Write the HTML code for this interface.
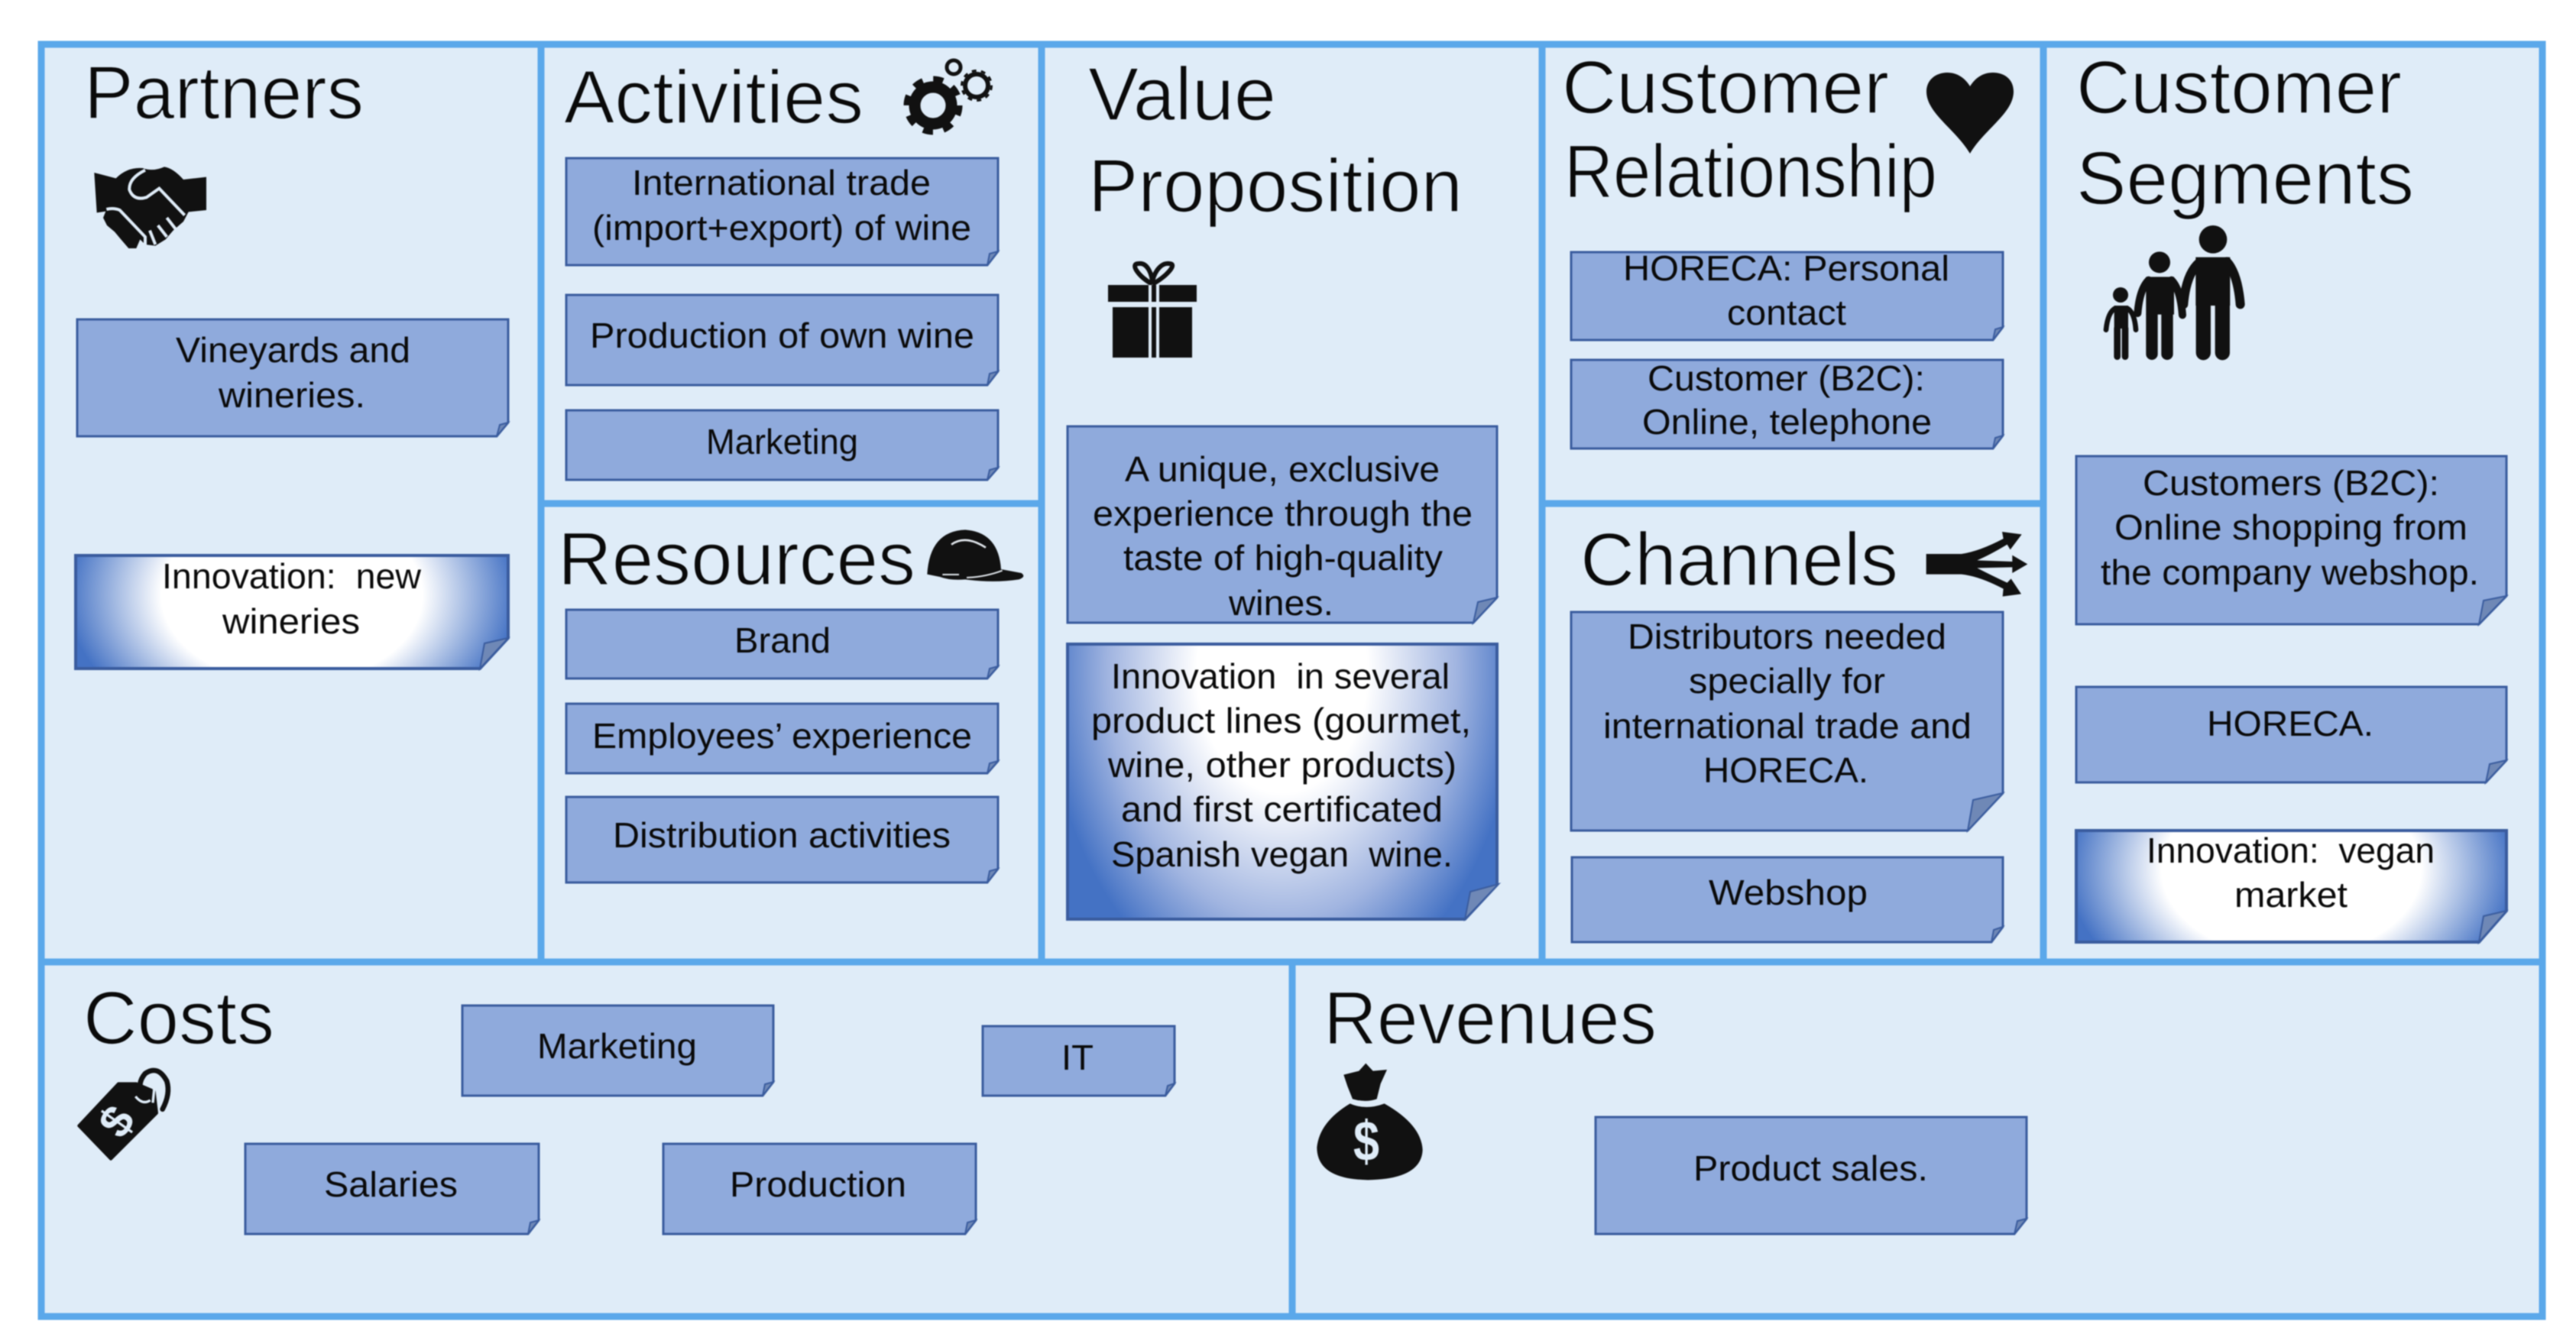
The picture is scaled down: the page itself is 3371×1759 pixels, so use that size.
<!DOCTYPE html>
<html><head><meta charset="utf-8"><style>
html,body{margin:0;padding:0;background:#fff;width:3371px;height:1759px;overflow:hidden}
svg{display:block;filter:blur(.7px)}
text{font-family:"Liberation Sans",sans-serif;fill:#0a0a0a}
.t{font-size:98px;stroke:#dfecf8;stroke-width:1.6px}
.b{font-size:46px}
.box{fill:#8faadc;stroke:#3a5c9e;stroke-width:3}
.fold{fill:#6f88b6;stroke:#3a5c9e;stroke-width:2}
</style></head><body>
<svg xmlns="http://www.w3.org/2000/svg" width="3371" height="1759" viewBox="0 0 3371 1759">
<defs>
<radialGradient id="g1" cx=".5" cy=".35" r=".52" gradientTransform="translate(.5 .35) scale(1 2.6) translate(-.5 -.35)">
<stop offset=".58" stop-color="#fff"/><stop offset="1" stop-color="#4472c4"/></radialGradient>
<radialGradient id="g2" cx=".5" cy=".1" r=".55" gradientTransform="translate(.5 .1) scale(1 2.22) translate(-.5 -.1)">
<stop offset=".36" stop-color="#fff"/><stop offset=".74" stop-color="#a0b4e0"/><stop offset="1" stop-color="#4472c4"/></radialGradient>
</defs>
<rect width="3371" height="1759" fill="#fff"/>
<rect x="54" y="58" width="3273" height="1665" fill="#dfecf8" stroke="#5ba8ea" stroke-width="9"/>
<g stroke="#5ba8ea" stroke-width="9" fill="none">
<path d="M54 1259H3327M708 58V1259M1363 58V1259M2018 58V1259M2674 58V1259M1691 1259V1723M708 659H1363M2018 659H2674"/>
</g>

<!-- boxes -->
<path class="box" d="M101 418H665V553L650 571H101Z"/>
<path fill="url(#g1)" stroke="#3a5c9e" stroke-width="4" d="M99 727H665V835L628 875H99Z"/>
<path class="box" d="M741 207H1306V329L1292 347H741Z"/>
<path class="box" d="M741 386H1306V486L1292 504H741Z"/>
<path class="box" d="M741 537H1306V612L1292 628H741Z"/>
<path class="box" d="M741 798H1306V872L1292 888H741Z"/>
<path class="box" d="M741 921H1306V996L1292 1012H741Z"/>
<path class="box" d="M741 1043H1306V1137L1292 1155H741Z"/>
<path class="box" d="M605 1316H1012V1416L998 1434H605Z"/>
<path class="box" d="M321 1497H705V1597L691 1615H321Z"/>
<path class="box" d="M868 1497H1277V1597L1263 1615H868Z"/>
<path class="box" d="M1286 1343H1537V1418L1525 1434H1286Z"/>
<path class="box" d="M2088 1462H2652V1595L2636 1615H2088Z"/>
<path class="box" d="M1397 558H1959V782L1928 815H1397Z"/>
<path fill="url(#g2)" stroke="#3a5c9e" stroke-width="4" d="M1397 843H1959V1158L1917 1203H1397Z"/>
<path class="box" d="M2056 330H2621V428L2608 445H2056Z"/>
<path class="box" d="M2056 471H2621V570L2608 587H2056Z"/>
<path class="box" d="M2056 801H2621V1038L2575 1087H2056Z"/>
<path class="box" d="M2057 1122H2621V1213L2606 1233H2057Z"/>
<path class="box" d="M2717 597H3280V780L3244 817H2717Z"/>
<path class="box" d="M2717 899H3280V995L3253 1024H2717Z"/>
<path fill="url(#g1)" stroke="#3a5c9e" stroke-width="4" d="M2717 1087H3280V1192L3244 1233H2717Z"/>
<!-- folds -->
<path class="fold" d="M665 553L650 571L654 556Z"/>
<path class="fold" d="M665 835L628 875L634 842Z"/>
<path class="fold" d="M1306 329L1292 347L1295 332Z"/>
<path class="fold" d="M1306 486L1292 504L1295 489Z"/>
<path class="fold" d="M1306 612L1292 628L1295 615Z"/>
<path class="fold" d="M1306 872L1292 888L1295 875Z"/>
<path class="fold" d="M1306 996L1292 1012L1295 999Z"/>
<path class="fold" d="M1306 1137L1292 1155L1295 1140Z"/>
<path class="fold" d="M1012 1416L998 1434L1001 1419Z"/>
<path class="fold" d="M705 1597L691 1615L694 1600Z"/>
<path class="fold" d="M1277 1597L1263 1615L1266 1600Z"/>
<path class="fold" d="M1537 1418L1525 1434L1528 1421Z"/>
<path class="fold" d="M2652 1595L2636 1615L2640 1598Z"/>
<path class="fold" d="M1959 782L1928 815L1934 788Z"/>
<path class="fold" d="M1961 1157L1917 1203L1924 1167Z"/>
<path class="fold" d="M2621 428L2608 445L2611 431Z"/>
<path class="fold" d="M2621 570L2608 587L2611 573Z"/>
<path class="fold" d="M2621 1038L2575 1087L2582 1047Z"/>
<path class="fold" d="M2621 1213L2606 1233L2609 1217Z"/>
<path class="fold" d="M3280 780L3244 817L3250 786Z"/>
<path class="fold" d="M3280 995L3253 1024L3258 1000Z"/>
<path class="fold" d="M3280 1192L3244 1233L3250 1199Z"/>

<!-- titles -->
<text class="t" x="110" y="155" textLength="366" lengthAdjust="spacingAndGlyphs">Partners</text>
<text class="t" x="738" y="161" textLength="392" lengthAdjust="spacingAndGlyphs">Activities</text>
<text class="t" x="730" y="765" textLength="468" lengthAdjust="spacingAndGlyphs">Resources</text>
<text class="t" x="1424" y="157" textLength="246" lengthAdjust="spacingAndGlyphs">Value</text>
<text class="t" x="1424" y="277" textLength="490" lengthAdjust="spacingAndGlyphs">Proposition</text>
<text class="t" x="2044" y="148" textLength="428" lengthAdjust="spacingAndGlyphs">Customer</text>
<text class="t" x="2047" y="258" textLength="488" lengthAdjust="spacingAndGlyphs">Relationship</text>
<text class="t" x="2717" y="148" textLength="426" lengthAdjust="spacingAndGlyphs">Customer</text>
<text class="t" x="2717" y="267" textLength="442" lengthAdjust="spacingAndGlyphs">Segments</text>
<text class="t" x="2068" y="766" textLength="416" lengthAdjust="spacingAndGlyphs">Channels</text>
<text class="t" x="109" y="1366" textLength="250" lengthAdjust="spacingAndGlyphs">Costs</text>
<text class="t" x="1732" y="1366" textLength="436" lengthAdjust="spacingAndGlyphs">Revenues</text>

<!-- box text -->
<text class="b" x="230" y="474" textLength="307" lengthAdjust="spacingAndGlyphs">Vineyards and</text>
<text class="b" x="286" y="533" textLength="192" lengthAdjust="spacingAndGlyphs">wineries.</text>
<text class="b" x="212" y="770" textLength="339" lengthAdjust="spacingAndGlyphs">Innovation:&#160; new</text>
<text class="b" x="291" y="829" textLength="180" lengthAdjust="spacingAndGlyphs">wineries</text>
<text class="b" x="827" y="255" textLength="391" lengthAdjust="spacingAndGlyphs">International trade</text>
<text class="b" x="775" y="314" textLength="496" lengthAdjust="spacingAndGlyphs">(import+export) of wine</text>
<text class="b" x="772" y="455" textLength="503" lengthAdjust="spacingAndGlyphs">Production of own wine</text>
<text class="b" x="924" y="594" textLength="199" lengthAdjust="spacingAndGlyphs">Marketing</text>
<text class="b" x="961" y="854" textLength="126" lengthAdjust="spacingAndGlyphs">Brand</text>
<text class="b" x="775" y="979" textLength="497" lengthAdjust="spacingAndGlyphs">Employees’ experience</text>
<text class="b" x="802" y="1109" textLength="442" lengthAdjust="spacingAndGlyphs">Distribution activities</text>
<text class="b" x="703" y="1385" textLength="209" lengthAdjust="spacingAndGlyphs">Marketing</text>
<text class="b" x="424" y="1566" textLength="175" lengthAdjust="spacingAndGlyphs">Salaries</text>
<text class="b" x="955" y="1566" textLength="231" lengthAdjust="spacingAndGlyphs">Production</text>
<text class="b" x="1389" y="1400" textLength="42" lengthAdjust="spacingAndGlyphs">IT</text>
<text class="b" x="2216" y="1545" textLength="307" lengthAdjust="spacingAndGlyphs">Product sales.</text>
<text class="b" x="1472" y="630" textLength="412" lengthAdjust="spacingAndGlyphs">A unique, exclusive</text>
<text class="b" x="1430" y="688" textLength="497" lengthAdjust="spacingAndGlyphs">experience through the</text>
<text class="b" x="1470" y="746" textLength="418" lengthAdjust="spacingAndGlyphs">taste of high-quality</text>
<text class="b" x="1608" y="805" textLength="137" lengthAdjust="spacingAndGlyphs">wines.</text>
<text class="b" x="1454" y="901" textLength="443" lengthAdjust="spacingAndGlyphs">Innovation&#160; in several</text>
<text class="b" x="1428" y="959" textLength="497" lengthAdjust="spacingAndGlyphs">product lines (gourmet,</text>
<text class="b" x="1450" y="1017" textLength="456" lengthAdjust="spacingAndGlyphs">wine, other products)</text>
<text class="b" x="1467" y="1075" textLength="421" lengthAdjust="spacingAndGlyphs">and first certificated</text>
<text class="b" x="1454" y="1134" textLength="447" lengthAdjust="spacingAndGlyphs">Spanish vegan&#160; wine.</text>
<text class="b" x="2124" y="367" textLength="427" lengthAdjust="spacingAndGlyphs">HORECA: Personal</text>
<text class="b" x="2260" y="425" textLength="156" lengthAdjust="spacingAndGlyphs">contact</text>
<text class="b" x="2156" y="511" textLength="363" lengthAdjust="spacingAndGlyphs">Customer (B2C):</text>
<text class="b" x="2149" y="568" textLength="379" lengthAdjust="spacingAndGlyphs">Online, telephone</text>
<text class="b" x="2130" y="849" textLength="417" lengthAdjust="spacingAndGlyphs">Distributors needed</text>
<text class="b" x="2210" y="907" textLength="257" lengthAdjust="spacingAndGlyphs">specially for</text>
<text class="b" x="2098" y="966" textLength="482" lengthAdjust="spacingAndGlyphs">international trade and</text>
<text class="b" x="2229" y="1024" textLength="216" lengthAdjust="spacingAndGlyphs">HORECA.</text>
<text class="b" x="2236" y="1184" textLength="208" lengthAdjust="spacingAndGlyphs">Webshop</text>
<text class="b" x="2804" y="648" textLength="388" lengthAdjust="spacingAndGlyphs">Customers (B2C):</text>
<text class="b" x="2767" y="706" textLength="462" lengthAdjust="spacingAndGlyphs">Online shopping from</text>
<text class="b" x="2749" y="765" textLength="495" lengthAdjust="spacingAndGlyphs">the company webshop.</text>
<text class="b" x="2888" y="963" textLength="218" lengthAdjust="spacingAndGlyphs">HORECA.</text>
<text class="b" x="2809" y="1129" textLength="377" lengthAdjust="spacingAndGlyphs">Innovation:&#160; vegan</text>
<text class="b" x="2924" y="1187" textLength="148" lengthAdjust="spacingAndGlyphs">market</text>

<!-- icons -->
<!-- handshake -->
<g transform="translate(90 200) scale(.3333)">
<path fill="#111" d="M100 78L185 100Q230 55 290 60Q330 75 375 55Q410 60 450 105L540 95V225L470 232L450 270L410 305L380 340L340 365L300 360L280 340L265 375L235 375L205 340L180 310L150 285L135 255L145 230L110 235Z"/>
<path fill="none" stroke="#dfecf8" stroke-width="12" d="M300 68Q235 100 238 145Q255 190 305 175L355 140L455 245M148 222Q175 215 200 225L300 330L300 362M350 285L385 330M385 255L420 300M318 305L340 360"/>
</g>
<!-- gears -->
<g fill="none" stroke="#111">
<circle cx="1221" cy="138" r="24" stroke-width="15"/>
<circle cx="1221" cy="138" r="34" stroke-width="9" stroke-dasharray="13 13.7"/>
<circle cx="1278" cy="112" r="15" stroke-width="6"/>
<circle cx="1278" cy="112" r="19.5" stroke-width="3" stroke-dasharray="6 6.2"/>
<circle cx="1248" cy="88" r="9" stroke-width="5"/>
</g>
<!-- hard hat -->
<g transform="translate(1200 680) scale(.3333)">
<path fill="#111" d="M40 215Q50 45 190 40Q320 50 330 195L410 210Q430 225 400 235Q300 250 190 235Q130 240 90 225Z"/>
<path fill="none" stroke="#dfe4ea" stroke-width="8" d="M135 98Q190 58 270 110"/>
<path fill="none" stroke="#dfe4ea" stroke-width="6" d="M100 216H165M195 228Q270 225 335 200"/>
</g>
<!-- gift -->
<rect x="1450" y="373" width="116" height="22" fill="#111"/>
<rect x="1456" y="402" width="104" height="66" fill="#111"/>
<path fill="none" stroke="#111" stroke-width="6" d="M1508 372C1490 362 1478 345 1490 345C1502 343 1508 360 1508 372C1508 360 1518 343 1530 345C1542 345 1526 362 1508 372"/>
<rect x="1503" y="373" width="4" height="95" fill="#dfecf8"/>
<rect x="1513" y="373" width="4" height="95" fill="#dfecf8"/>
<!-- heart -->
<path fill="#111" d="M2578 201C2560 170 2521 148 2521 120C2521 103 2535 95 2548 95C2562 95 2572 103 2578 113C2584 103 2594 95 2608 95C2622 95 2635 103 2635 120C2635 148 2596 170 2578 201Z"/>
<!-- arrows -->
<g transform="translate(2500 680) scale(.3333)">
<path fill="#111" d="M62 135L200 135Q270 125 365 75L360 48L437 58L392 118L380 98Q310 140 262 160L400 165V140L460 175L400 210V187L262 190Q310 215 380 248L395 232L435 292L362 302L365 272Q270 222 200 215L62 215Z"/>
</g>
<!-- family -->
<g transform="translate(2740 285) scale(.3333)" fill="#111" stroke="none">
<circle cx="468" cy="85" r="55"/>
<path d="M400 155H535V345H400Z"/>
<path fill="none" stroke="#111" stroke-width="36" stroke-linecap="round" d="M415 175Q362 220 352 340M522 172Q565 220 575 340"/>
<path fill="none" stroke="#111" stroke-width="58" stroke-linecap="round" d="M430 345V530M505 345V530"/>
<circle cx="258" cy="175" r="42"/>
<path d="M205 232H315V380H205Z"/>
<path fill="none" stroke="#111" stroke-width="30" stroke-linecap="round" d="M215 245Q180 280 172 375M305 245Q340 280 348 382"/>
<path fill="none" stroke="#111" stroke-width="46" stroke-linecap="round" d="M228 380V535M288 380V535"/>
<circle cx="105" cy="303" r="30"/>
<path d="M80 345H135V435H80Z"/>
<path fill="none" stroke="#111" stroke-width="20" stroke-linecap="round" d="M85 355Q55 370 48 440M130 355Q160 370 165 440"/>
<path fill="none" stroke="#111" stroke-width="26" stroke-linecap="round" d="M92 435V545M123 435V545"/>
</g>
<!-- tag -->
<g transform="translate(90 1385) scale(.3333)">
<path fill="#111" stroke="#111" stroke-width="12" stroke-linejoin="round" d="M40 265L195 100H265L335 130L345 215L165 395Z"/>
<path fill="none" stroke="#dfecf8" stroke-width="10" d="M262 150Q290 185 320 165"/>
<path fill="none" stroke="#111" stroke-width="20" stroke-linecap="round" d="M290 150Q265 100 300 60Q350 25 385 90Q400 140 368 200"/>
<path fill="none" stroke="#dfecf8" stroke-width="10" d="M310 105Q330 95 335 125L330 175"/>
</g>
<text x="0" y="0" transform="translate(153 1468) rotate(-55) translate(0 20)" text-anchor="middle" font-size="60" font-weight="bold" style="fill:#dfecf8">$</text>
<!-- money bag -->
<g transform="translate(1700 1385) scale(.3333)">
<path fill="#111" d="M175 65L235 50L262 20L290 50L345 45L320 100L305 160Q262 175 210 160L190 110Z"/>
<path fill="#111" d="M200 178Q262 205 335 178Q480 260 485 360Q480 475 270 478Q70 475 70 350Q80 250 200 178Z"/>
</g>
<text x="1788" y="1519" text-anchor="middle" font-size="74" font-weight="bold" textLength="34" lengthAdjust="spacingAndGlyphs" style="fill:#dfecf8">$</text>
</svg>
</body></html>
